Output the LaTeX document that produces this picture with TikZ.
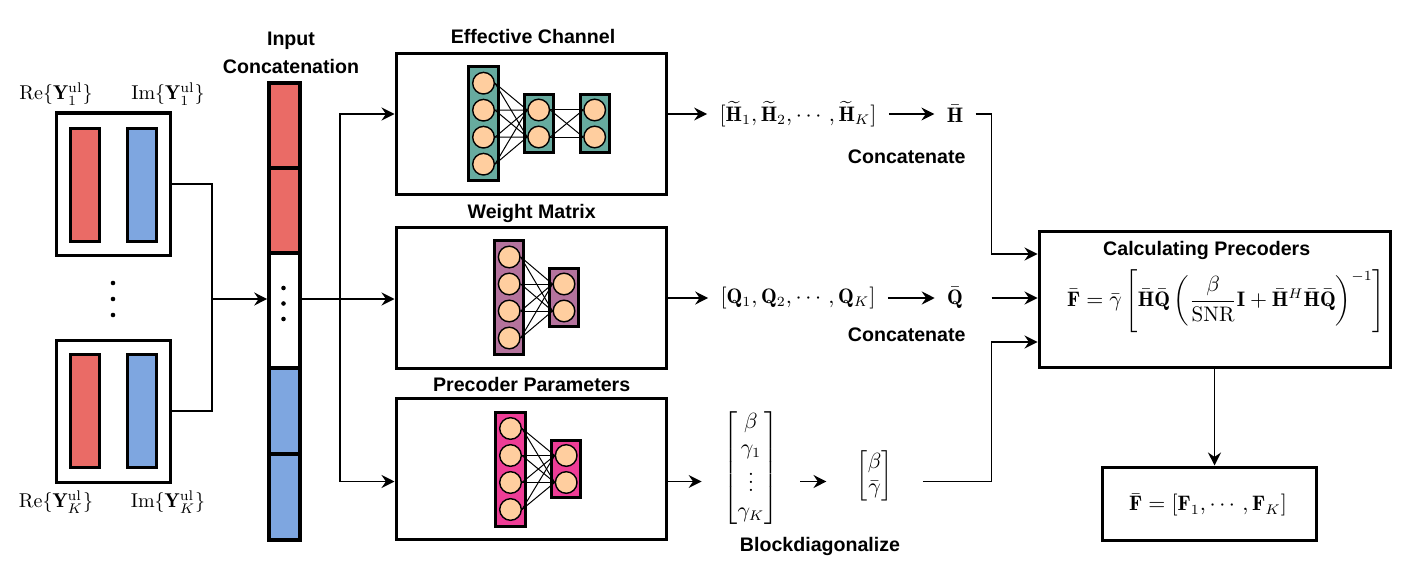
\documentclass[tikz,border=0pt]{standalone}
\usepackage{fontspec}
\usepackage{amsmath,amssymb}
\newfontfamily\sfb{Liberation Sans}
\usetikzlibrary{arrows.meta,calc}
\definecolor{cred}{HTML}{EA6B66}
\definecolor{cblue}{HTML}{7EA6E0}
\definecolor{cteal}{HTML}{67AB9F}
\definecolor{cpurple}{HTML}{B5739D}
\definecolor{cpink}{HTML}{EE3D96}
\definecolor{cpeach}{HTML}{FFCE9F}
\begin{document}
\begin{tikzpicture}[x=0.5pt,y=-0.5pt,
  box/.style={draw, line width=1.5pt, inner sep=0pt, fill=white},
  bar/.style={draw, line width=1.5pt, inner sep=0pt, minimum width=14.6pt},
  cbar/.style={draw, line width=1.8pt, inner sep=0pt, minimum width=15.5pt},
  lay/.style={draw, line width=1.5pt, inner sep=0pt, minimum width=14.6pt},
  neur/.style={circle, draw, line width=0.7pt, fill=cpeach, minimum size=10.8pt, inner sep=0pt},
  edge/.style={line width=0.5pt},
  ttl/.style={font=\sfb\bfseries\fontsize{9.8}{14}\selectfont, inner sep=1pt, align=center},
  mth/.style={font=\fontsize{10.5}{12.6}\selectfont, inner ysep=1pt, inner xsep=6pt},
  lbl/.style={font=\fontsize{10}{12}\selectfont, inner sep=1pt},
  dotm/.style={circle, fill=black, minimum size=2.3pt, inner sep=0pt},
  ln/.style={line width=0.75pt},
  arr/.style={line width=0.75pt, -{Stealth[length=6.5pt,width=6.5pt,inset=2.2pt]}}]
\useasboundingbox (0,0) rectangle (1406,583);

% ---------- left inputs ----------
\node[box, minimum width=57pt, minimum height=71pt] (in1) at (113,184) {};
\node[bar, fill=cred, minimum height=56.8pt] (in1r) at (85.3,184.8) {};
\node[bar, fill=cblue, minimum height=56.8pt] (in1i) at (142.2,184.8) {};
\node[box, minimum width=57pt, minimum height=71pt] (inK) at (113,411) {};
\node[bar, fill=cred, minimum height=56.8pt] (inKr) at (85.3,411) {};
\node[bar, fill=cblue, minimum height=56.8pt] (inKi) at (142.2,411) {};
\node[lbl] (re1) at (56,94) {$\mathrm{Re}\{\mathbf{Y}_1^{\mathrm{ul}}\}$};
\node[lbl] (im1) at (168,94) {$\mathrm{Im}\{\mathbf{Y}_1^{\mathrm{ul}}\}$};
\node[lbl] (reK) at (56,502) {$\mathrm{Re}\{\mathbf{Y}_K^{\mathrm{ul}}\}$};
\node[lbl] (imK) at (168,502) {$\mathrm{Im}\{\mathbf{Y}_K^{\mathrm{ul}}\}$};
\node[dotm] (ld1) at (113,283) {};
\node[dotm] (ld2) at (113,299) {};
\node[dotm] (ld3) at (113,315) {};

% ---------- concatenation bar ----------
\node[ttl] (cattl) at (291,53) {Input\\Concatenation};
\node[cbar, fill=cred, minimum height=42.5pt] (s1) at (284.5,125.5) {};
\node[cbar, fill=cred, minimum height=42.5pt] (s2) at (284.5,210.5) {};
\node[cbar, fill=white, minimum height=57.5pt] (s3) at (284.5,310.5) {};
\node[cbar, fill=cblue, minimum height=43pt] (s4) at (284.5,411) {};
\node[cbar, fill=cblue, minimum height=43pt] (s5) at (284.5,497) {};
\node[dotm] (bd1) at (283.5,288) {};
\node[dotm] (bd2) at (283.5,303.5) {};
\node[dotm] (bd3) at (283.5,319) {};

% ---------- network boxes ----------
\node[box, minimum width=135pt, minimum height=70.5pt] (net1) at (531,123.7) {};
\node[box, minimum width=135pt, minimum height=70.5pt] (net2) at (531,297.5) {};
\node[box, minimum width=135pt, minimum height=70.5pt] (net3) at (531,469) {};
\node[ttl] (t1) at (533,36) {Effective Channel};
\node[ttl] (t2) at (531.7,213.5) {Weight Matrix};
\node[ttl] (t3) at (531.7,384) {Precoder Parameters};

% effective channel network
\node[lay, fill=cteal, minimum height=57pt] (e1) at (483.5,123.7) {};
\node[lay, fill=cteal, minimum height=29.3pt] (e2) at (538.7,123.5) {};
\node[lay, fill=cteal, minimum height=29.3pt] (e3) at (594.7,123.5) {};
\foreach \i/\y in {1/83.2,2/110.2,3/137.2,4/164.2} \node[neur] (e1n\i) at (483.5,\y) {};
\foreach \i/\y in {1/110,2/137} {\node[neur] (e2n\i) at (538.7,\y) {}; \node[neur] (e3n\i) at (594.7,\y) {};}
\foreach \a in {1,...,4} \foreach \b in {1,2} \draw[edge] (e1n\a.east) -- (e2n\b.west);
\foreach \a in {1,2} \foreach \b in {1,2} \draw[edge] (e2n\a.east) -- (e3n\b.west);

% weight matrix network
\node[lay, fill=cpurple, minimum height=57pt] (w1) at (509.2,297.5) {};
\node[lay, fill=cpurple, minimum height=28.7pt] (w2) at (564,297.5) {};
\foreach \i/\y in {1/257,2/284,3/311,4/338} \node[neur] (w1n\i) at (509.2,\y) {};
\foreach \i/\y in {1/284,2/311} \node[neur] (w2n\i) at (564,\y) {};
\foreach \a in {1,...,4} \foreach \b in {1,2} \draw[edge] (w1n\a.east) -- (w2n\b.west);

% precoder parameter network
\node[lay, fill=cpink, minimum height=57pt] (p1) at (510.5,469) {};
\node[lay, fill=cpink, minimum height=28.8pt] (p2) at (566.2,469) {};
\foreach \i/\y in {1/428.5,2/455.5,3/482.5,4/509.5} \node[neur] (p1n\i) at (510.5,\y) {};
\foreach \i/\y in {1/455.5,2/482.5} \node[neur] (p2n\i) at (566.2,\y) {};
\foreach \a in {1,...,4} \foreach \b in {1,2} \draw[edge] (p1n\a.east) -- (p2n\b.west);

% ---------- outputs ----------
\node[mth] (hlist) at (798,114) {$[\widetilde{\mathbf{H}}_1, \widetilde{\mathbf{H}}_2, \cdots, \widetilde{\mathbf{H}}_K]$};
\node[mth] (hbar) at (955,114) {$\bar{\mathbf{H}}$};
\node[mth] (qlist) at (798,298) {$[\mathbf{Q}_1, \mathbf{Q}_2, \cdots, \mathbf{Q}_K]$};
\node[mth] (qbar) at (955,298) {$\bar{\mathbf{Q}}$};
\node[mth, inner xsep=10.8pt] (pvec) at (751,468) {$\begin{bmatrix}\beta\\ \gamma_1\\ \vdots\\ \gamma_K\end{bmatrix}$};
\node[mth, inner xsep=15pt] (gvec) at (874.7,476) {$\begin{bmatrix}\beta\\ \bar{\gamma}\end{bmatrix}$};
\node[ttl] (cc1) at (906.7,156.7) {Concatenate};
\node[ttl] (cc2) at (906.7,335) {Concatenate};
\node[ttl] (bdg) at (820,546.7) {Blockdiagonalize};

% ---------- precoder ----------
\node[box, minimum width=175.5pt, minimum height=68pt] (prec) at (1214.5,299) {};
\node[ttl] (pt) at (1206.7,250.5) {Calculating Precoders};
\node[mth, inner sep=0pt] (form) at (1226,301) {$\bar{\mathbf{F}} = \bar{\gamma}\left[\bar{\mathbf{H}}\bar{\mathbf{Q}}\left(\dfrac{\beta}{\mathrm{SNR}}\mathbf{I} + \bar{\mathbf{H}}^{H}\bar{\mathbf{H}}\bar{\mathbf{Q}}\right)^{-1}\right]$};
\node[box, minimum width=107pt, minimum height=36.5pt] (final) at (1209,503.5) {};
\node[mth] (ftxt) at (1208,505) {$\bar{\mathbf{F}} = [\mathbf{F}_1, \cdots, \mathbf{F}_K]$};

% ---------- connectors ----------
\coordinate (jn) at (212,299);
\coordinate (bx) at (340,299);
\coordinate (cx) at (991.5,299);
\coordinate (row3) at (0,481.5);
\coordinate (pin1) at (0,254);
\coordinate (pin3) at (0,342);
\draw[ln] (in1.east) -| (jn);
\draw[ln] (inK.east) -| (jn);
\draw[arr] (jn) -- (jn -| s3.west);
\draw[arr] (jn -| s3.east) -- (jn -| net2.west);
\draw[arr] (bx) |- (net1.west |- hlist);
\draw[arr] (bx) |- (net3.west |- row3);

\draw[arr] (net1.east |- hlist) -- (hlist.west);
\draw[arr] (hlist.east) -- (hbar.west);
\draw[arr] (net2.east |- qlist) -- (qlist.west);
\draw[arr] (qlist.east) -- (qbar.west);
\draw[arr] (net3.east |- row3) -- (pvec.west |- row3);
\draw[arr] (pvec.east |- row3) -- (gvec.west |- row3);

\draw[arr] (hbar.east) -- (cx |- hbar.east) -- (cx |- pin1) -- (prec.west |- pin1);
\draw[arr] (cx |- qbar) -- (prec.west |- qbar);
\draw[arr] (gvec.east |- row3) -- (cx |- row3) -- (cx |- pin3) -- (prec.west |- pin3);
\draw[arr] (prec.south) -- (prec.south |- final.north);
\end{tikzpicture}
\end{document}
